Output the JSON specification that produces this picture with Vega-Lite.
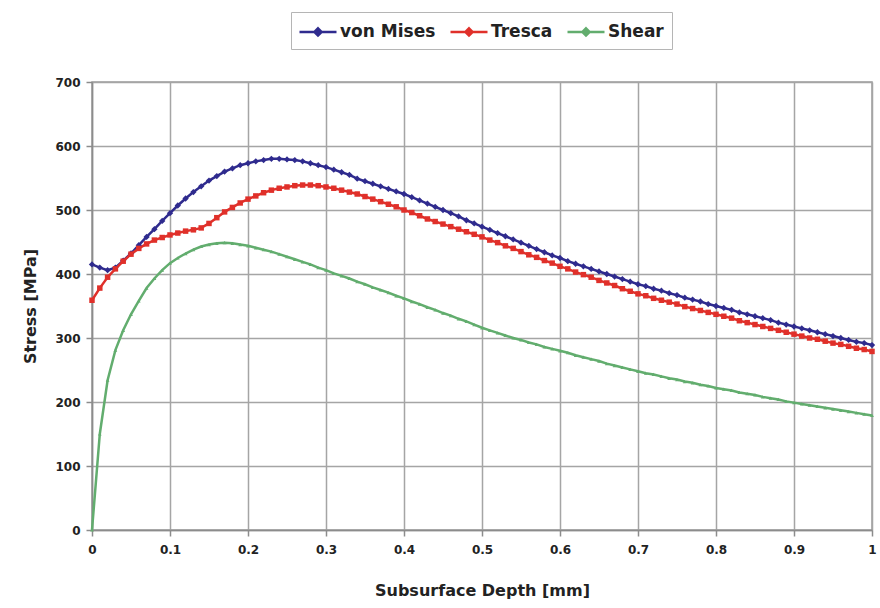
{
  "$schema": "https://vega.github.io/schema/vega-lite/v6.json",
  "width": 780,
  "height": 448,
  "autosize": {"type": "none"},
  "padding": {"left": 92, "top": 82, "right": 8, "bottom": 78},
  "background": "white",
  "config": {
    "font": "DejaVu Sans",
    "view": {"stroke": "#9c9c9c", "strokeWidth": 1.5},
    "axis": {
      "gridColor": "#a5a5a5",
      "gridWidth": 1.5,
      "domainColor": "#8c8c8c",
      "domainWidth": 1.5,
      "tickColor": "#8c8c8c",
      "tickWidth": 1.5,
      "tickSize": 6,
      "labelFont": "DejaVu Sans",
      "labelFontWeight": "bold",
      "labelColor": "#222222",
      "titleFont": "DejaVu Sans",
      "titleFontWeight": "bold",
      "titleColor": "#222222"
    }
  },
  "data": {
    "values": [
      {"d": 0.00, "von Mises": 415, "Tresca": 359, "Shear": 0},
      {"d": 0.01, "von Mises": 410, "Tresca": 378, "Shear": 150},
      {"d": 0.02, "von Mises": 406, "Tresca": 395, "Shear": 234},
      {"d": 0.03, "von Mises": 410, "Tresca": 408, "Shear": 281},
      {"d": 0.04, "von Mises": 421, "Tresca": 420, "Shear": 312},
      {"d": 0.05, "von Mises": 432, "Tresca": 431, "Shear": 337},
      {"d": 0.06, "von Mises": 445, "Tresca": 440, "Shear": 358},
      {"d": 0.07, "von Mises": 458, "Tresca": 447, "Shear": 378},
      {"d": 0.08, "von Mises": 470, "Tresca": 453, "Shear": 393},
      {"d": 0.09, "von Mises": 483, "Tresca": 457, "Shear": 406},
      {"d": 0.10, "von Mises": 495, "Tresca": 461, "Shear": 417},
      {"d": 0.11, "von Mises": 507, "Tresca": 464, "Shear": 425},
      {"d": 0.12, "von Mises": 518, "Tresca": 467, "Shear": 432},
      {"d": 0.13, "von Mises": 528, "Tresca": 469, "Shear": 438},
      {"d": 0.14, "von Mises": 537, "Tresca": 472, "Shear": 443},
      {"d": 0.15, "von Mises": 546, "Tresca": 479, "Shear": 446},
      {"d": 0.16, "von Mises": 553, "Tresca": 488, "Shear": 448},
      {"d": 0.17, "von Mises": 560, "Tresca": 497, "Shear": 449},
      {"d": 0.18, "von Mises": 565, "Tresca": 504, "Shear": 448},
      {"d": 0.19, "von Mises": 570, "Tresca": 511, "Shear": 446},
      {"d": 0.20, "von Mises": 573, "Tresca": 517, "Shear": 444},
      {"d": 0.21, "von Mises": 576, "Tresca": 522, "Shear": 441},
      {"d": 0.22, "von Mises": 578, "Tresca": 527, "Shear": 438},
      {"d": 0.23, "von Mises": 580, "Tresca": 531, "Shear": 435},
      {"d": 0.24, "von Mises": 580, "Tresca": 534, "Shear": 431},
      {"d": 0.25, "von Mises": 579, "Tresca": 536, "Shear": 427},
      {"d": 0.26, "von Mises": 578, "Tresca": 538, "Shear": 423},
      {"d": 0.27, "von Mises": 576, "Tresca": 539, "Shear": 419},
      {"d": 0.28, "von Mises": 573, "Tresca": 539, "Shear": 415},
      {"d": 0.29, "von Mises": 570, "Tresca": 538, "Shear": 410},
      {"d": 0.30, "von Mises": 567, "Tresca": 536, "Shear": 406},
      {"d": 0.31, "von Mises": 563, "Tresca": 534, "Shear": 401},
      {"d": 0.32, "von Mises": 559, "Tresca": 531, "Shear": 397},
      {"d": 0.33, "von Mises": 555, "Tresca": 528, "Shear": 393},
      {"d": 0.34, "von Mises": 549, "Tresca": 525, "Shear": 388},
      {"d": 0.35, "von Mises": 545, "Tresca": 521, "Shear": 384},
      {"d": 0.36, "von Mises": 541, "Tresca": 517, "Shear": 379},
      {"d": 0.37, "von Mises": 537, "Tresca": 513, "Shear": 375},
      {"d": 0.38, "von Mises": 533, "Tresca": 509, "Shear": 371},
      {"d": 0.39, "von Mises": 529, "Tresca": 505, "Shear": 366},
      {"d": 0.40, "von Mises": 525, "Tresca": 500, "Shear": 362},
      {"d": 0.41, "von Mises": 520, "Tresca": 496, "Shear": 357},
      {"d": 0.42, "von Mises": 515, "Tresca": 491, "Shear": 353},
      {"d": 0.43, "von Mises": 510, "Tresca": 486, "Shear": 348},
      {"d": 0.44, "von Mises": 505, "Tresca": 482, "Shear": 344},
      {"d": 0.45, "von Mises": 500, "Tresca": 478, "Shear": 339},
      {"d": 0.46, "von Mises": 495, "Tresca": 474, "Shear": 335},
      {"d": 0.47, "von Mises": 490, "Tresca": 470, "Shear": 330},
      {"d": 0.48, "von Mises": 484, "Tresca": 466, "Shear": 326},
      {"d": 0.49, "von Mises": 479, "Tresca": 462, "Shear": 321},
      {"d": 0.50, "von Mises": 474, "Tresca": 458, "Shear": 316},
      {"d": 0.51, "von Mises": 469, "Tresca": 453, "Shear": 312},
      {"d": 0.52, "von Mises": 464, "Tresca": 449, "Shear": 308},
      {"d": 0.53, "von Mises": 459, "Tresca": 444, "Shear": 304},
      {"d": 0.54, "von Mises": 454, "Tresca": 440, "Shear": 300},
      {"d": 0.55, "von Mises": 449, "Tresca": 435, "Shear": 297},
      {"d": 0.56, "von Mises": 444, "Tresca": 430, "Shear": 293},
      {"d": 0.57, "von Mises": 439, "Tresca": 426, "Shear": 290},
      {"d": 0.58, "von Mises": 434, "Tresca": 421, "Shear": 286},
      {"d": 0.59, "von Mises": 429, "Tresca": 417, "Shear": 283},
      {"d": 0.60, "von Mises": 425, "Tresca": 412, "Shear": 280},
      {"d": 0.61, "von Mises": 420, "Tresca": 408, "Shear": 277},
      {"d": 0.62, "von Mises": 416, "Tresca": 403, "Shear": 273},
      {"d": 0.63, "von Mises": 412, "Tresca": 399, "Shear": 270},
      {"d": 0.64, "von Mises": 408, "Tresca": 395, "Shear": 267},
      {"d": 0.65, "von Mises": 404, "Tresca": 390, "Shear": 264},
      {"d": 0.66, "von Mises": 400, "Tresca": 386, "Shear": 260},
      {"d": 0.67, "von Mises": 396, "Tresca": 382, "Shear": 257},
      {"d": 0.68, "von Mises": 392, "Tresca": 377, "Shear": 254},
      {"d": 0.69, "von Mises": 388, "Tresca": 373, "Shear": 251},
      {"d": 0.70, "von Mises": 384, "Tresca": 369, "Shear": 248},
      {"d": 0.71, "von Mises": 381, "Tresca": 366, "Shear": 245},
      {"d": 0.72, "von Mises": 377, "Tresca": 362, "Shear": 243},
      {"d": 0.73, "von Mises": 374, "Tresca": 359, "Shear": 240},
      {"d": 0.74, "von Mises": 370, "Tresca": 356, "Shear": 237},
      {"d": 0.75, "von Mises": 367, "Tresca": 353, "Shear": 235},
      {"d": 0.76, "von Mises": 363, "Tresca": 349, "Shear": 232},
      {"d": 0.77, "von Mises": 360, "Tresca": 346, "Shear": 230},
      {"d": 0.78, "von Mises": 357, "Tresca": 343, "Shear": 227},
      {"d": 0.79, "von Mises": 353, "Tresca": 340, "Shear": 225},
      {"d": 0.80, "von Mises": 350, "Tresca": 337, "Shear": 222},
      {"d": 0.81, "von Mises": 347, "Tresca": 334, "Shear": 220},
      {"d": 0.82, "von Mises": 344, "Tresca": 331, "Shear": 218},
      {"d": 0.83, "von Mises": 340, "Tresca": 327, "Shear": 215},
      {"d": 0.84, "von Mises": 337, "Tresca": 324, "Shear": 213},
      {"d": 0.85, "von Mises": 334, "Tresca": 321, "Shear": 211},
      {"d": 0.86, "von Mises": 331, "Tresca": 318, "Shear": 208},
      {"d": 0.87, "von Mises": 328, "Tresca": 315, "Shear": 206},
      {"d": 0.88, "von Mises": 324, "Tresca": 312, "Shear": 204},
      {"d": 0.89, "von Mises": 321, "Tresca": 309, "Shear": 201},
      {"d": 0.90, "von Mises": 318, "Tresca": 306, "Shear": 199},
      {"d": 0.91, "von Mises": 315, "Tresca": 303, "Shear": 197},
      {"d": 0.92, "von Mises": 312, "Tresca": 300, "Shear": 195},
      {"d": 0.93, "von Mises": 309, "Tresca": 298, "Shear": 193},
      {"d": 0.94, "von Mises": 306, "Tresca": 295, "Shear": 191},
      {"d": 0.95, "von Mises": 303, "Tresca": 292, "Shear": 189},
      {"d": 0.96, "von Mises": 300, "Tresca": 290, "Shear": 187},
      {"d": 0.97, "von Mises": 297, "Tresca": 287, "Shear": 185},
      {"d": 0.98, "von Mises": 294, "Tresca": 284, "Shear": 183},
      {"d": 0.99, "von Mises": 292, "Tresca": 282, "Shear": 181},
      {"d": 1.00, "von Mises": 289, "Tresca": 279, "Shear": 179}
    ]
  },
  "transform": [
    {"fold": ["von Mises", "Tresca", "Shear"], "as": ["series", "stress"]}
  ],
  "encoding": {
    "x": {
      "field": "d",
      "type": "quantitative",
      "scale": {"domain": [0, 1], "nice": false},
      "axis": {
        "title": "Subsurface Depth [mm]",
        "titleFontSize": 16,
        "titlePadding": 27,
        "values": [0, 0.1, 0.2, 0.3, 0.4, 0.5, 0.6, 0.7, 0.8, 0.9, 1],
        "format": ".1~f",
        "labelFontSize": 12,
        "labelPadding": 8,
        "labelFlush": false
      }
    },
    "y": {
      "field": "stress",
      "type": "quantitative",
      "scale": {"domain": [0, 700], "nice": false},
      "axis": {
        "title": "Stress [MPa]",
        "titleFontSize": 16,
        "titlePadding": 16,
        "values": [0, 100, 200, 300, 400, 500, 600, 700],
        "labelFontSize": 12,
        "labelPadding": 6
      }
    },
    "color": {
      "field": "series",
      "type": "nominal",
      "scale": {
        "domain": ["von Mises", "Tresca", "Shear"],
        "range": ["#2f2b8e", "#e0302a", "#62ad6e"]
      },
      "legend": {
        "title": null,
        "orient": "none",
        "legendX": 199,
        "legendY": -70,
        "direction": "horizontal",
        "strokeColor": "#b5b5b5",
        "fillColor": "white",
        "padding": 8,
        "labelFont": "DejaVu Sans",
        "labelFontWeight": "bold",
        "labelFontSize": 17,
        "labelColor": "#222222",
        "labelOffset": 10.5,
        "columnPadding": 9,
        "symbolType": "M-1.85,0L1.85,0M0,-0.36L0.36,0L0,0.36L-0.36,0Z",
        "symbolSize": 400,
        "symbolOffset": 7.5,
        "symbolStrokeWidth": 2.5
      }
    }
  },
  "layer": [
    {
      "mark": {"type": "line", "strokeWidth": 2.5}
    },
    {
      "mark": {"type": "point", "filled": true, "opacity": 1},
      "encoding": {
        "shape": {
          "condition": [
            {"test": "datum.series === 'Tresca'", "value": "square"},
            {"test": "datum.series === 'Shear'", "value": "triangle-up"}
          ],
          "value": "diamond"
        },
        "size": {
          "condition": [
            {"test": "datum.series === 'Tresca'", "value": 30},
            {"test": "datum.series === 'Shear'", "value": 14}
          ],
          "value": 40
        }
      }
    }
  ]
}
